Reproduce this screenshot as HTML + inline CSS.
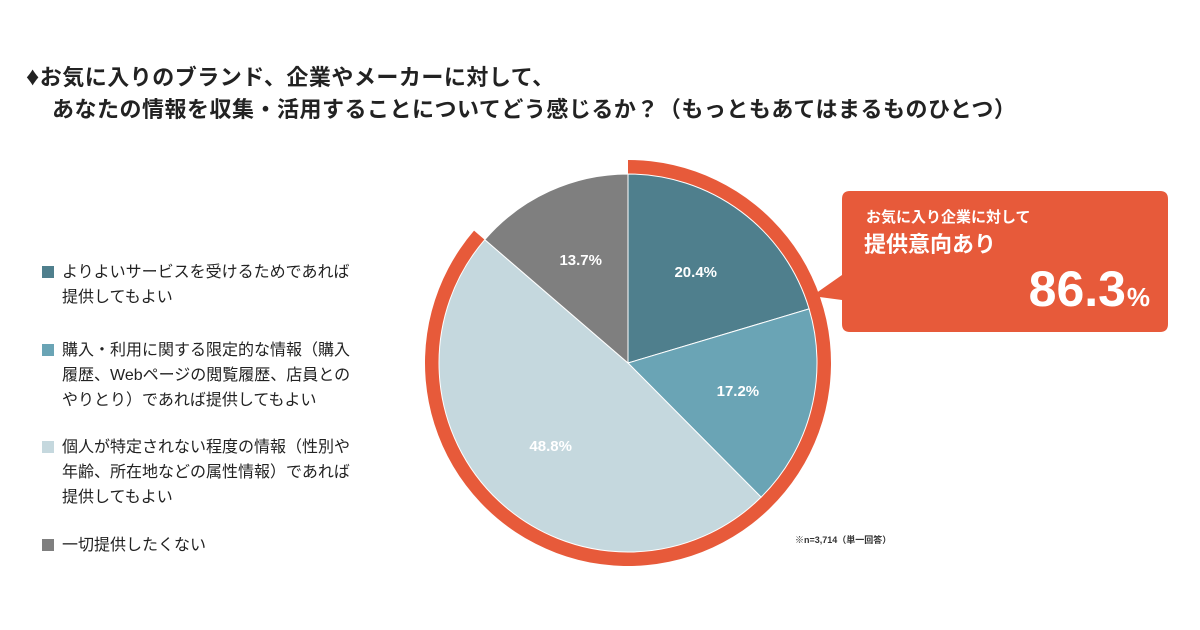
<!DOCTYPE html>
<html><head><meta charset="utf-8"><style>
body{margin:0;width:1200px;height:630px;background:#fff;font-family:"Liberation Sans","Noto Sans CJK JP",sans-serif;position:relative;overflow:hidden;color:#222}
.t{position:absolute;font-weight:bold;font-size:22px;white-space:nowrap;letter-spacing:0.5px}
.lg{position:absolute;left:42px;font-size:16px;line-height:25px;color:#222}
.lg i{position:absolute;left:0;top:6px;width:12px;height:12px}
.lg span{display:block;margin-left:20px}
</style></head><body>
<div class="t" style="left:26px;top:60px"><span style="font-size:26px">♦</span>お気に入りのブランド、企業やメーカーに対して、</div>
<div class="t" style="left:52px;top:92px">あなたの情報を収集・活用することについてどう感じるか？（もっともあてはまるものひとつ）</div>

<div class="lg" style="top:260px"><i style="background:#4f7f8d"></i><span>よりよいサービスを受けるためであれば<br>提供してもよい</span></div>
<div class="lg" style="top:338px"><i style="background:#6aa4b5"></i><span>購入・利用に関する限定的な情報（購入<br>履歴、Webページの閲覧履歴、店員との<br>やりとり）であれば提供してもよい</span></div>
<div class="lg" style="top:435px"><i style="background:#c5d8de"></i><span>個人が特定されない程度の情報（性別や<br>年齢、所在地などの属性情報）であれば<br>提供してもよい</span></div>
<div class="lg" style="top:533px"><i style="background:#7f7f7f"></i><span>一切提供したくない</span></div>

<svg id="pie" width="1200" height="630" style="position:absolute;left:0;top:0">
<path d="M842,199 Q842,191 850,191 L1160,191 Q1168,191 1168,199 L1168,324 Q1168,332 1160,332 L850,332 Q842,332 842,324 L842,300 L812,296 L842,275 Z" fill="#e75a3a"/>
<text x="866" y="222" fill="#fff" font-size="15" font-weight="bold">お気に入り企業に対して</text>
<text x="864" y="252" fill="#fff" font-size="22" font-weight="bold">提供意向あり</text>
<text x="1126" y="306" fill="#fff" font-size="50" font-weight="bold" text-anchor="end">86.3</text>
<text x="1150" y="306" fill="#fff" font-size="26" font-weight="bold" text-anchor="end">%</text>
<text x="795" y="543" fill="#333" font-size="9" font-weight="bold">※n=3,714（単一回答）</text>
</svg>
<script>
const categories=['service','purchase','anonymous','none'];
const values=[20.4,17.2,48.8,13.7];
const labels=['20.4%','17.2%','48.8%','13.7%'];
const colors=['#4f7f8d','#6aa4b5','#c5d8de','#7f7f7f'];
const highlightValue=86.3;
const svg=document.getElementById('pie');
const NS='http://www.w3.org/2000/svg';
const cx=628,cy=363,r=189;
const total=values.reduce((a,b)=>a+b,0);
function pt(frac,rad){const a=frac*2*Math.PI;return [cx+rad*Math.sin(a),cy-rad*Math.cos(a)];}
{const ro=203,ri=189,f=highlightValue/100;
const [x1,y1]=pt(0,ro),[x2,y2]=pt(f,ro),[x3,y3]=pt(f,ri),[x4,y4]=pt(0,ri);const lg=f>0.5?1:0;
const p=document.createElementNS(NS,'path');
p.setAttribute('d',`M${x1},${y1} A${ro},${ro} 0 ${lg} 1 ${x2},${y2} L${x3},${y3} A${ri},${ri} 0 ${lg} 0 ${x4},${y4}Z`);
p.setAttribute('fill','#e75a3a');


svg.insertBefore(p,svg.firstChild);}
let acc=0;
values.forEach((v,i)=>{const f0=acc/total,f1=(acc+v)/total;acc+=v;
const [x1,y1]=pt(f0,r),[x2,y2]=pt(f1,r);
const p=document.createElementNS(NS,'path');
p.setAttribute('d',`M${cx},${cy} L${x1},${y1} A${r},${r} 0 ${f1-f0>0.5?1:0} 1 ${x2},${y2}Z`);
p.setAttribute('fill',colors[i]);p.setAttribute('stroke','#fff');p.setAttribute('stroke-width','1');


svg.appendChild(p);
const [lx,ly]=pt((f0+f1)/2,r*0.6);
const t=document.createElementNS(NS,'text');
t.setAttribute('x',lx);t.setAttribute('y',ly+5);t.setAttribute('text-anchor','middle');
t.setAttribute('fill','#fff');t.setAttribute('font-size','15');t.setAttribute('font-weight','bold');
t.textContent=labels[i];


svg.appendChild(t);});
</script>
</body></html>
